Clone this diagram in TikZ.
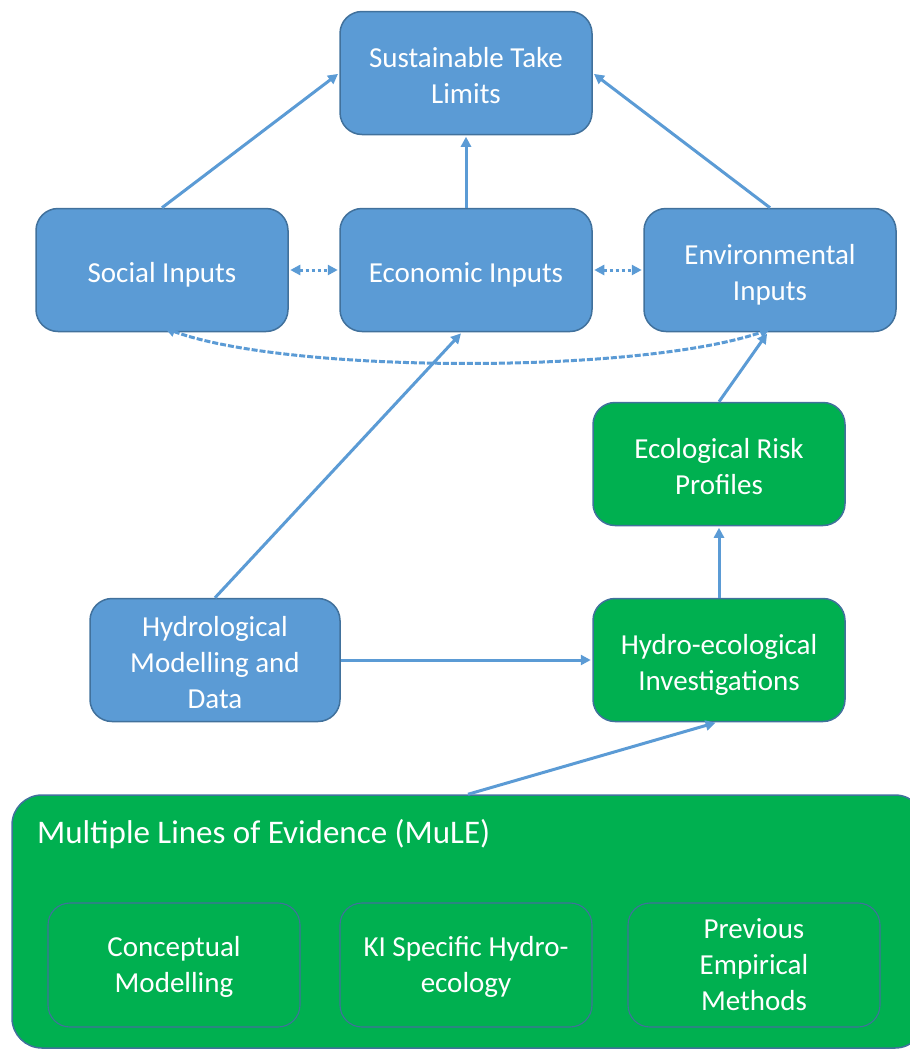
\documentclass[tikz,border=0pt]{standalone}
\usepackage{fontspec}
\setmainfont{Carlito}
\usetikzlibrary{arrows.meta}
\definecolor{bluefill}{HTML}{5B9BD5}
\definecolor{boxline}{HTML}{41719C}
\definecolor{greenfill}{HTML}{00B050}
\definecolor{arrowblue}{HTML}{5B9BD5}
\newcommand{\bxt}[1]{\raisebox{-5pt}[\height][\depth]{\begin{tabular}{@{}c@{}}#1\end{tabular}}}
\newcommand{\bxtin}[1]{\raisebox{-2.5pt}[\height][\depth]{\begin{tabular}{@{}c@{}}#1\end{tabular}}}
\tikzset{
  box/.style={draw=boxline, line width=1.5pt, rounded corners=22pt, minimum width=252pt, minimum height=123pt, inner sep=0pt, align=center, text=white, font=\fontsize{29}{36}\selectfont},
  bluebox/.style={box, fill=bluefill},
  greenbox/.style={box, fill=greenfill},
  innerbox/.style={box, fill=greenfill, line width=1.1pt, minimum width=252pt, minimum height=124pt},
  tipa/.tip={Triangle[length=10pt,width=10pt]},
  conn/.style={draw=arrowblue, line width=3pt, -tipa, shorten >=1.5pt},
  dotconn/.style={draw=arrowblue, line width=3pt, dash pattern=on 3pt off 3pt, tipa-tipa, shorten >=1.5pt, shorten <=1.5pt},
  dashconn/.style={draw=arrowblue, line width=3pt, dash pattern=on 6pt off 2pt, tipa-tipa}
}
\begin{document}
\begin{tikzpicture}[x=1pt,y=-1pt]
\useasboundingbox (0,0) rectangle (910,1050);
\node[bluebox] (stl) at (466,73) {\bxt{Sustainable Take\\Limits}};
\node[bluebox] (soc) at (162,270) {\bxt{Social Inputs}};
\node[bluebox] (eco) at (466,270) {\bxt{Economic Inputs}};
\node[bluebox] (env) at (770,270) {\bxt{Environmental\\Inputs}};
\node[greenbox] (erp) at (719,464) {\bxt{Ecological Risk\\Profiles}};
\node[greenbox] (hei) at (719,660) {\bxt{Hydro-ecological\\Investigations}};
\node[bluebox, minimum width=250pt] (hyd) at (215,660) {\bxt{Hydrological\\Modelling and\\Data}};
\node[greenbox, minimum width=913pt, minimum height=253pt, rounded corners=30pt] (mule) at (468.5,921.5) {};
\node[anchor=west, text=white, font=\fontsize{33}{38}\selectfont, inner sep=0pt] (mulet) at (37,834) {Multiple Lines of Evidence (MuLE)};
\node[innerbox] (con) at (174,965) {\bxtin{Conceptual\\Modelling}};
\node[innerbox] (ki) at (466,965) {\bxtin{KI Specific Hydro-\\ecology}};
\node[innerbox] (pem) at (754,965) {\bxtin{Previous\\Empirical\\Methods}};
\draw[conn] (soc.north) -- (stl.west);
\draw[conn] (eco.north) -- (stl.south);
\draw[conn] (env.north) -- (stl.east);
\draw[dotconn] (soc.east) -- (eco.west);
\draw[dotconn] (eco.east) -- (env.west);
\draw[dashconn] ([xshift=3pt,yshift=4pt]soc.south) .. controls (290,374) and (640,374) .. ([yshift=3pt]env.south);
\draw[conn] (hyd.north) -- ([xshift=-4pt]eco.south);
\draw[conn] (hyd.east) -- (hei.west);
\draw[conn] (hei.north) -- (erp.south);
\draw[conn] (erp.north) -- ([xshift=-2pt]env.south);
\draw[conn] ([xshift=-0.5pt]mule.north) -- ([xshift=-2pt]hei.south);
\end{tikzpicture}
\end{document}
